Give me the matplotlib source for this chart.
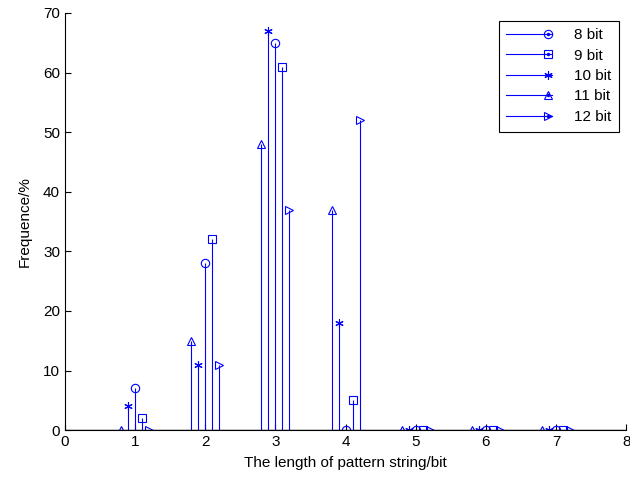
import matplotlib
matplotlib.use("Agg")
import matplotlib.pyplot as plt
from matplotlib.lines import Line2D
from matplotlib.legend_handler import HandlerLine2DCompound

# pattern string length (bit) and frequency (%) for each code width
lengths = [1, 2, 3, 4, 5, 6, 7]
labels = ["8 bit", "9 bit", "10 bit", "11 bit", "12 bit"]
freq_8 = [7, 28, 65, 0, 0, 0, 0]
freq_9 = [2, 32, 61, 5, 0, 0, 0]
freq_10 = [4, 11, 67, 18, 0, 0, 0]
freq_11 = [0, 15, 48, 37, 0, 0, 0]
freq_12 = [0, 11, 37, 52, 0, 0, 0]
offsets = [0.0, 0.1, -0.1, -0.2, 0.2]
markers = ["o", "s", (6, 2, 0), "^", ">"]


class EndMarkerHandler(HandlerLine2DCompound):
    # matlab style stem legend: marker at the right end with a dot inside
    def get_xdata(self, legend, xdescent, ydescent, width, height, fontsize):
        return [-xdescent, -xdescent + width], [-xdescent + width - 3]

    def create_artists(self, legend, orig_handle, xdescent, ydescent,
                       width, height, fontsize, trans):
        arts = super().create_artists(legend, orig_handle, xdescent, ydescent,
                                      width, height, fontsize, trans)
        mk = arts[-1]
        dot = Line2D(mk.get_xdata(), mk.get_ydata(), linestyle="none",
                     marker="o", markersize=1.5, color="blue", transform=trans)
        return arts + [dot]


plt.rcParams["font.family"] = ["Liberation Sans", "DejaVu Sans"]
plt.rcParams["font.size"] = 11

fig = plt.figure(figsize=(6.3, 4.79), dpi=100)
ax = fig.add_axes([0.103, 0.102, 0.891, 0.871])

series = [freq_8, freq_9, freq_10, freq_11, freq_12]
handles = []
for vals, off, mk, lab in zip(series, offsets, markers, labels):
    xs = [x + off for x in lengths]
    ax.vlines(xs, 0, vals, color="blue", linewidth=0.8)
    ax.plot(xs, vals, linestyle="none", marker=mk, markersize=6,
            markerfacecolor="none", markeredgecolor="blue", markeredgewidth=0.8)
    handles.append(Line2D([0], [0], color="blue", linewidth=0.8, marker=mk,
                          markersize=6, markerfacecolor="none",
                          markeredgecolor="blue", markeredgewidth=0.8, label=lab))

ax.axhline(0, color="black", linewidth=1)

ax.spines["top"].set_visible(False)
ax.spines["right"].set_visible(False)
ax.set_xlim(0, 8)
ax.set_ylim(0, 70)
ax.set_xticks(range(0, 9))
ax.set_yticks(range(0, 71, 10))
ax.tick_params(direction="in", length=4)
ax.set_xlabel("The length of pattern string/bit", labelpad=5)
ax.set_ylabel("Frequence/%", labelpad=8)

leg = ax.legend(handles=handles, loc="upper right", numpoints=1,
                handler_map={Line2D: EndMarkerHandler()},
                handlelength=3.0, handletextpad=1.4, fancybox=False,
                edgecolor="black", framealpha=1, borderaxespad=0.5,
                labelspacing=0.42, borderpad=0.5)
leg.get_frame().set_linewidth(0.8)

fig.savefig("out.png", dpi=100)
